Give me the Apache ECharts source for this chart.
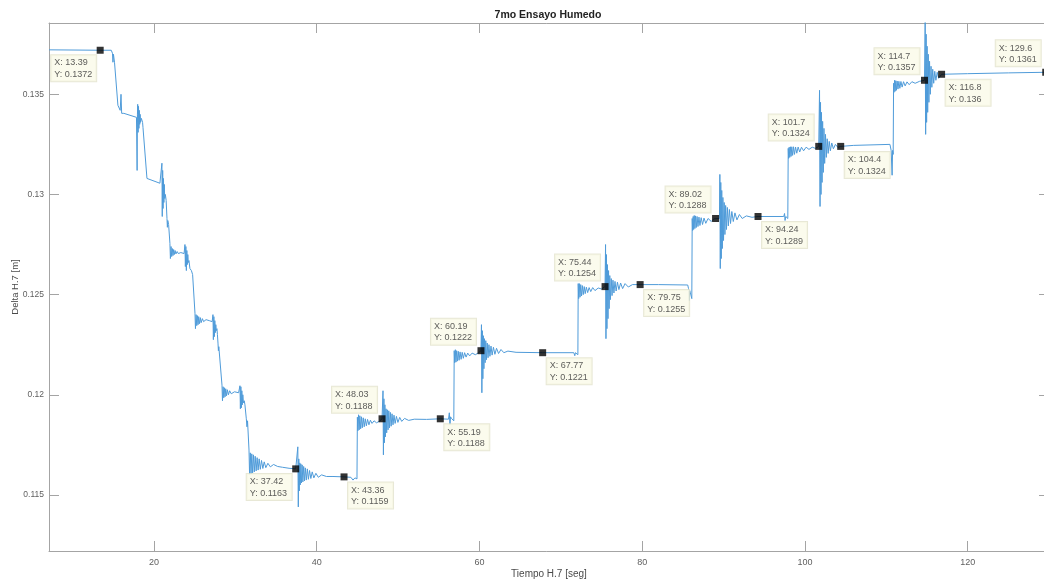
<!DOCTYPE html>
<html>
<head>
<meta charset="utf-8">
<title>7mo Ensayo Humedo</title>
<script src="https://cdn.jsdelivr.net/npm/echarts@6/dist/echarts.min.js"></script>
<style>
  html, body { margin: 0; padding: 0; background: #ffffff; }
  #chart { width: 1044px; height: 580px; }
</style>
</head>
<body>
<div id="chart"></div>
<script>
// Axis ticks
const xTicks = [20, 40, 60, 80, 100, 120];
const yTicks = [0.115, 0.12, 0.125, 0.13, 0.135];

// Data tips: time [seg], level [m]
const tipX = [13.39, 37.42, 43.36, 48.03, 55.19, 60.19, 67.77, 75.44, 79.75, 89.02, 94.24, 101.7, 104.4, 114.7, 116.8, 129.6];
const tipY = [0.1372, 0.1163, 0.1159, 0.1188, 0.1188, 0.1222, 0.1221, 0.1254, 0.1255, 0.1288, 0.1289, 0.1324, 0.1324, 0.1357, 0.136, 0.1361];

// Measured Delta H.7, one array per step of the test: [time, level]
const step01 = [[7.1,0.13722],[13.39,0.1372],[14.75,0.1372],[14.9,0.13705],[14.96,0.1366],[15.02,0.137],[15.15,0.1366],[15.57,0.13445],[15.85,0.1342],[15.95,0.135],[16.03,0.13405],[16.3,0.13405],[17.85,0.13385]];
const step02 = [[17.9,0.1339],[17.93,0.1312],[17.97,0.134],[18.0,0.1345],[18.05,0.1331],[18.1,0.1344],[18.15,0.1333],[18.2,0.1342],[18.25,0.1335],[18.3,0.134],[18.35,0.1336],[18.45,0.1338],[18.6,0.1336],[18.65,0.13335],[19.14,0.1308],[20.73,0.13056]];
const step03 = [[20.85,0.1306],[20.98,0.13156],[21.02,0.1289],[21.07,0.1312],[21.12,0.1293],[21.17,0.1308],[21.22,0.1296],[21.27,0.1305],[21.32,0.1298],[21.4,0.13],[21.5,0.1297],[21.6,0.1288],[21.65,0.12836],[21.7,0.1287],[21.8,0.1285],[21.96,0.12756],
  [22.02,0.1268],[22.1,0.1274],[22.18,0.1269],[22.26,0.1273],[22.34,0.12695],[22.42,0.12725],[22.5,0.127],[22.6,0.1272],[22.7,0.12703],[22.85,0.12715],[23.0,0.12705],[23.3,0.1271],[23.7,0.12705]];
const step04 = [[23.81,0.1275],[23.86,0.1264],[23.92,0.1274],[23.98,0.1262],[24.04,0.1272],[24.1,0.1265],[24.16,0.127],[24.22,0.1266],[24.3,0.1267],[24.42,0.1263],[24.6,0.1262],[24.75,0.126],[25.04,0.12407],
  [25.1,0.1233],[25.18,0.124],[25.26,0.12345],[25.34,0.12395],[25.42,0.1235],[25.5,0.1239],[25.6,0.12355],[25.7,0.12385],[25.8,0.1236],[25.95,0.1238],[26.1,0.12365],[26.4,0.12375],[26.8,0.1237],[27.15,0.12365]];
const step05 = [[27.25,0.124],[27.3,0.12275],[27.36,0.1239],[27.42,0.1229],[27.48,0.1237],[27.54,0.1231],[27.6,0.1235],[27.66,0.1232],[27.74,0.1233],[27.8,0.123],[27.87,0.12258],[27.92,0.1222],[27.97,0.1224],[28.36,0.12048],
  [28.42,0.1197],[28.5,0.1204],[28.58,0.11985],[28.66,0.12035],[28.74,0.1199],[28.82,0.1203],[28.92,0.11995],[29.02,0.12025],[29.15,0.12],[29.3,0.1202],[29.5,0.12005],[29.9,0.12015],[30.4,0.1201]];
const step06 = [[30.57,0.12045],[30.62,0.1193],[30.68,0.1204],[30.74,0.11935],[30.8,0.1202],[30.86,0.1195],[30.92,0.12],[31.0,0.1196],[31.1,0.1197],[31.18,0.1195],[31.35,0.1188],[31.43,0.1184],[31.5,0.1187],[31.68,0.11724],
  [31.75,0.116],[31.84,0.1171],[31.93,0.11605],[32.02,0.11705],[32.12,0.1161],[32.22,0.117],[32.33,0.11615],[32.44,0.11693],[32.56,0.1162],[32.68,0.11686],[32.8,0.11624],[32.93,0.1168],[33.07,0.11628],[33.22,0.11672],[33.38,0.11632],[33.55,0.11665],[33.75,0.11636],[34.0,0.11658],[34.3,0.1164],[34.7,0.11652],[35.2,0.11642],[35.8,0.11638],[36.6,0.11633],[37.42,0.1163]];
const step07 = [[37.6,0.1163],[37.68,0.1174],[37.74,0.1144],[37.8,0.1168],[37.86,0.1152],[37.92,0.1166],[37.98,0.1155],[38.05,0.11655],[38.13,0.1156],[38.21,0.1165],[38.3,0.11565],[38.4,0.11642],[38.5,0.1157],[38.6,0.11635],[38.72,0.11574],[38.85,0.1163],[38.98,0.11578],[39.12,0.11622],[39.28,0.11582],[39.45,0.11615],[39.65,0.11585],[39.9,0.11608],[40.2,0.11588],[40.6,0.116],[41.2,0.11592],[42.0,0.11592],[43.36,0.1159],[44.2,0.11588],[44.46,0.11574],[44.7,0.11585],[44.95,0.1158]];
const step08 = [[45.0,0.11888],[45.06,0.1182],[45.14,0.119],[45.22,0.11825],[45.3,0.11895],[45.4,0.1183],[45.5,0.1189],[45.6,0.11835],[45.72,0.11885],[45.84,0.1184],[45.97,0.1188],[46.1,0.11845],[46.25,0.11877],[46.42,0.1185],[46.6,0.11873],[46.8,0.11857],[47.05,0.1187],[47.35,0.1186],[47.7,0.11868],[48.03,0.1188]];
const step09 = [[48.1,0.1188],[48.15,0.1202],[48.2,0.117],[48.26,0.1198],[48.32,0.1176],[48.38,0.1195],[48.45,0.1179],[48.52,0.1193],[48.6,0.1181],[48.68,0.11925],[48.77,0.11825],[48.86,0.1192],[48.95,0.11835],[49.05,0.11912],[49.15,0.11843],[49.26,0.11905],[49.38,0.1185],[49.5,0.11898],[49.64,0.11857],[49.8,0.11892],[49.98,0.11862],[50.2,0.11887],[50.45,0.11867],[50.8,0.11882],[51.3,0.11872],[52.0,0.11878],[53.5,0.11877],[55.19,0.1188],[56.2,0.11878],[56.3,0.1191],[56.38,0.1185],[56.45,0.1189],[56.6,0.1188],[56.85,0.1187]];
const step10 = [[56.9,0.1222],[56.96,0.1216],[57.04,0.12225],[57.12,0.12163],[57.2,0.1222],[57.3,0.12168],[57.4,0.12217],[57.5,0.12172],[57.62,0.12214],[57.75,0.12177],[57.88,0.12212],[58.02,0.12182],[58.18,0.1221],[58.36,0.12188],[58.56,0.12208],[58.8,0.12194],[59.1,0.12208],[59.5,0.122],[59.9,0.1221],[60.19,0.1222]];
const step11 = [[60.25,0.1235],[60.3,0.1201],[60.36,0.1232],[60.42,0.1208],[60.48,0.12295],[60.55,0.1213],[60.62,0.1228],[60.7,0.1216],[60.78,0.1227],[60.87,0.12175],[60.96,0.12258],[61.06,0.12185],[61.17,0.1225],[61.29,0.12192],[61.42,0.12243],[61.56,0.12198],[61.72,0.12237],[61.9,0.12202],[62.1,0.12232],[62.35,0.12206],[62.65,0.12226],[63.0,0.1221],[63.5,0.12218],[64.5,0.12212],[67.77,0.1221],[71.6,0.1221],[71.72,0.12195],[71.8,0.1221],[72.1,0.122]];
const step12 = [[72.14,0.12555],[72.2,0.1248],[72.28,0.12555],[72.36,0.12487],[72.45,0.1255],[72.55,0.12493],[72.65,0.12545],[72.76,0.125],[72.88,0.1254],[73.0,0.12505],[73.14,0.12537],[73.3,0.1251],[73.48,0.12535],[73.68,0.12515],[73.92,0.12535],[74.2,0.1252],[74.6,0.12533],[75.0,0.12528],[75.44,0.1254]];
const step13 = [[75.5,0.1275],[75.55,0.1228],[75.61,0.127],[75.67,0.1233],[75.73,0.1265],[75.8,0.1238],[75.87,0.1262],[75.94,0.1243],[76.02,0.12595],[76.1,0.12475],[76.2,0.1258],[76.3,0.12495],[76.41,0.12572],[76.53,0.12508],[76.66,0.12566],[76.8,0.12518],[76.96,0.12562],[77.14,0.12525],[77.35,0.12558],[77.6,0.1253],[77.9,0.12555],[78.3,0.12538],[78.8,0.1255],[79.75,0.1255],[82.0,0.1255],[85.6,0.12548],[85.7,0.1253],[85.76,0.1247],[85.85,0.1252],[86.1,0.1248]];
const step14 = [[86.15,0.1288],[86.2,0.1282],[86.27,0.1289],[86.33,0.12825],[86.4,0.12895],[86.48,0.1283],[86.56,0.12893],[86.65,0.12835],[86.75,0.1289],[86.86,0.1284],[86.98,0.12887],[87.1,0.12845],[87.25,0.12884],[87.42,0.1285],[87.6,0.12882],[87.82,0.12856],[88.1,0.1288],[88.5,0.12865],[88.8,0.12878],[89.02,0.1288]];
const step15 = [[89.5,0.1288],[89.55,0.131],[89.6,0.1263],[89.66,0.1306],[89.72,0.1268],[89.78,0.1302],[89.85,0.1273],[89.92,0.12985],[90.0,0.1277],[90.08,0.1296],[90.17,0.128],[90.26,0.12945],[90.36,0.12825],[90.47,0.12935],[90.59,0.12843],[90.72,0.12925],[90.86,0.12855],[91.02,0.12915],[91.2,0.12865],[91.4,0.12908],[91.65,0.12873],[91.95,0.129],[92.3,0.1288],[92.8,0.12893],[93.5,0.12886],[94.24,0.1289],[97.4,0.1289],[97.5,0.12905],[97.56,0.1287],[97.65,0.1289],[97.9,0.1288]];
const step16 = [[97.95,0.1323],[98.0,0.1318],[98.07,0.13236],[98.14,0.13185],[98.22,0.13238],[98.3,0.1319],[98.39,0.13238],[98.49,0.13195],[98.6,0.13238],[98.72,0.132],[98.85,0.13237],[99.0,0.13206],[99.17,0.13237],[99.36,0.13212],[99.58,0.13236],[99.84,0.13218],[100.15,0.13236],[100.5,0.13225],[100.9,0.13236],[101.3,0.1323],[101.7,0.1324]];
const step17 = [[101.8,0.1352],[101.86,0.1294],[101.92,0.1346],[101.98,0.13],[102.04,0.1341],[102.11,0.1306],[102.18,0.13365],[102.26,0.1311],[102.34,0.1333],[102.43,0.13155],[102.53,0.133],[102.63,0.13185],[102.74,0.13278],[102.86,0.13205],[102.99,0.13265],[103.13,0.13218],[103.3,0.13257],[103.5,0.13228],[103.75,0.1325],[104.05,0.13235],[104.4,0.1324],[106.0,0.13245],[110.45,0.1325],[110.6,0.1322],[110.72,0.13096],[110.78,0.1322],[110.85,0.132]];
const step18 = [[110.9,0.13555],[110.95,0.1351],[111.02,0.1357],[111.09,0.13515],[111.17,0.13568],[111.25,0.1352],[111.34,0.13566],[111.44,0.13526],[111.55,0.13565],[111.67,0.1353],[111.8,0.13564],[111.95,0.13536],[112.12,0.13563],[112.32,0.13542],[112.55,0.13562],[112.82,0.13548],[113.15,0.13563],[113.55,0.13555],[114.1,0.13565],[114.7,0.1357]];
const step19 = [[114.78,0.1386],[114.84,0.133],[114.9,0.138],[114.96,0.1336],[115.02,0.1374],[115.09,0.1341],[115.16,0.137],[115.24,0.1346],[115.32,0.13665],[115.41,0.135],[115.5,0.1364],[115.6,0.13535],[115.71,0.13625],[115.83,0.13555],[115.96,0.13615],[116.1,0.1357],[116.26,0.1361],[116.44,0.1358],[116.8,0.136],[120.0,0.13603],[125.0,0.13607],[129.6,0.1361],[130.0,0.1361]];

const trace = [].concat(step01, step02, step03, step04, step05, step06, step07, step08, step09, step10,
                        step11, step12, step13, step14, step15, step16, step17, step18, step19);

// Which corner of its marker each data-tip box sits at
const tipSide = ['bl','bl','br','tl','br','tl','br','tl','br','tl','br','tl','br','tl','br','tl'];

const FONT = '"Liberation Sans", Arial, Helvetica, sans-serif';
const AXIS_GREY = '#a4a4a4';
const X_MIN = 7.1, X_MAX = 130;
const Y_MIN = 0.1122, Y_MAX = 0.13856;
const TIP_TEXT_W = 39;   // content width of a data-tip box (padding 3 each side)

function sig4(v) { return String(Number(v.toPrecision(4))); }

// Offsets from the marker's bounding box top-left (marker is 7 px)
const sidePlacement = {
  br: { position: [7.5, 9], verticalAlign: 'top' },
  tl: { position: [-46.5, -2.5], verticalAlign: 'bottom' },
  bl: { position: [-45.5, 8.5], verticalAlign: 'top' }
};

const tipData = tipX.map(function (x, i) {
  const p = sidePlacement[tipSide[i]];
  return {
    value: [x, tipY[i]],
    label: { position: p.position, align: 'left', verticalAlign: p.verticalAlign }
  };
});

function boxAxis(extra) {
  return Object.assign({
    type: 'value',
    axisLine: { show: true, onZero: false, lineStyle: { color: AXIS_GREY, width: 1 } },
    splitLine: { show: false }
  }, extra);
}

const chart = echarts.init(document.getElementById('chart'), null, { renderer: 'canvas' });

chart.setOption({
  animation: false,
  backgroundColor: '#ffffff',
  title: {
    text: '7mo Ensayo Humedo',
    left: 548,
    top: 10,
    padding: 0,
    textAlign: 'center',
    textStyle: { fontFamily: FONT, fontSize: 10.5, fontWeight: 'bold', color: '#222222' }
  },
  grid: { left: 49, top: 23, width: 1000, height: 528, containLabel: false, outerBoundsMode: 'none' },
  xAxis: [
    boxAxis({
      position: 'bottom', min: X_MIN, max: X_MAX,
      axisTick: { show: true, inside: true, length: 10, customValues: xTicks, lineStyle: { color: AXIS_GREY } },
      axisLabel: { customValues: xTicks, color: '#5f5f5f', fontFamily: FONT, fontSize: 9, margin: 7 },
      name: 'Tiempo H.7 [seg]', nameLocation: 'middle', nameGap: 18, nameMoveOverlap: false,
      nameTextStyle: { fontFamily: FONT, fontSize: 10, color: '#4a4a4a' }
    }),
    boxAxis({
      position: 'top', min: X_MIN, max: X_MAX,
      axisTick: { show: true, inside: true, length: 10, customValues: xTicks, lineStyle: { color: AXIS_GREY } },
      axisLabel: { show: false }
    })
  ],
  yAxis: [
    boxAxis({
      position: 'left', min: Y_MIN, max: Y_MAX,
      axisTick: { show: true, inside: true, length: 10, customValues: yTicks, lineStyle: { color: AXIS_GREY } },
      axisLabel: { customValues: yTicks, color: '#5f5f5f', fontFamily: FONT, fontSize: 8.5, margin: 5,
                   formatter: function (v) { return String(Number(v.toFixed(4))); } },
      name: 'Delta H.7 [m]', nameLocation: 'middle', nameGap: 29, nameMoveOverlap: false,
      nameTextStyle: { fontFamily: FONT, fontSize: 9.5, color: '#4a4a4a' }
    }),
    boxAxis({
      position: 'right', min: Y_MIN, max: Y_MAX,
      axisTick: { show: true, inside: true, length: 10, customValues: yTicks, lineStyle: { color: AXIS_GREY } },
      axisLabel: { show: false }
    })
  ],
  series: [
    {
      type: 'line',
      name: 'Delta H.7',
      xAxisIndex: 0, yAxisIndex: 0,
      data: trace,
      showSymbol: false,
      symbol: 'none',
      clip: true,
      lineStyle: { color: '#4f9bd9', width: 1 },
      emphasis: { disabled: true },
      z: 2
    },
    {
      type: 'scatter',
      name: 'tips',
      xAxisIndex: 0, yAxisIndex: 0,
      data: tipData,
      symbol: 'rect',
      symbolSize: 7,
      clip: false,
      itemStyle: { color: '#000000' },
      emphasis: { disabled: true },
      label: {
        show: true,
        formatter: function (p) { return 'X: ' + sig4(p.value[0]) + '\nY: ' + sig4(p.value[1]); },
        fontFamily: FONT,
        fontSize: 9,
        lineHeight: 11.5,
        width: TIP_TEXT_W,
        overflow: 'none',
        color: '#333333',
        backgroundColor: '#fafae8',
        borderColor: '#e2e2cc',
        borderWidth: 1,
        padding: [2, 3, 1, 3]
      },
      z: 5
    }
  ]
});
</script>
</body>
</html>
